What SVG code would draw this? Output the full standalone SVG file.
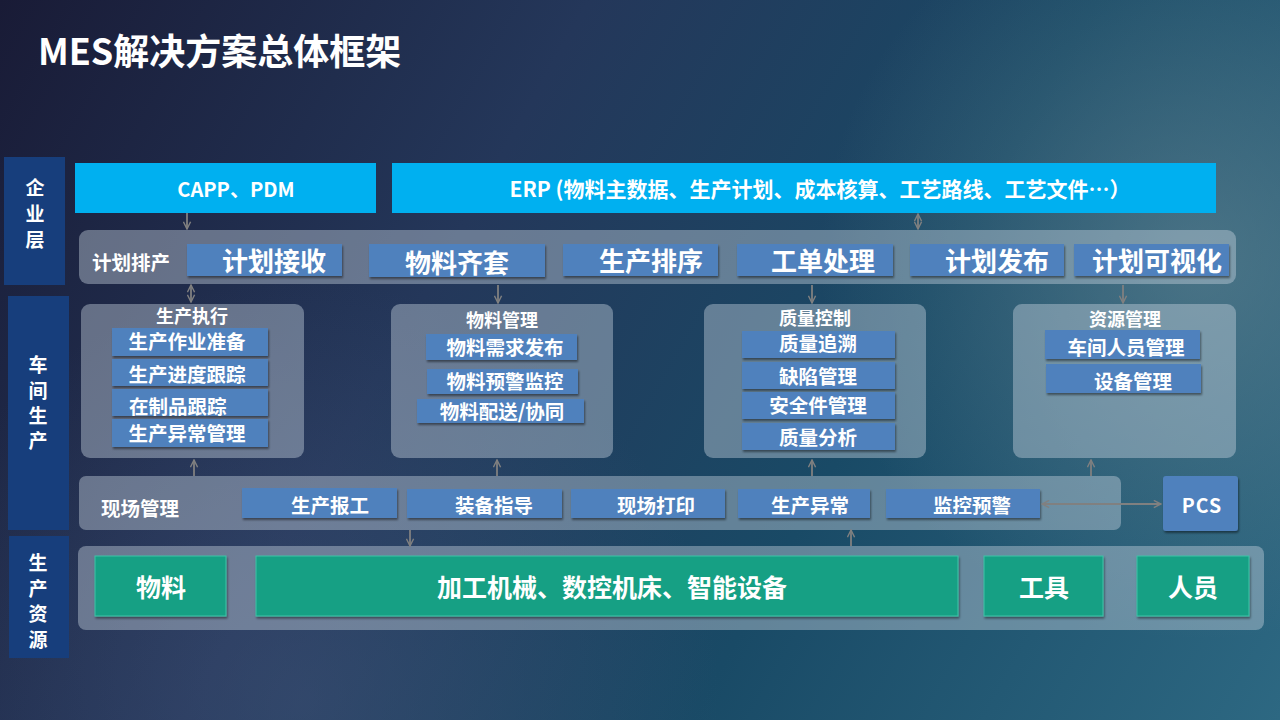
<svg xmlns="http://www.w3.org/2000/svg" width="1280" height="720" viewBox="0 0 1280 720">
<defs>
<linearGradient id="bg" x1="0" y1="0" x2="1280" y2="720" gradientUnits="userSpaceOnUse">
<stop offset="0" stop-color="#191b36"/>
<stop offset="0.35" stop-color="#24375a"/>
<stop offset="0.65" stop-color="#194a66"/>
<stop offset="1" stop-color="#2d6882"/>
</linearGradient>
<radialGradient id="glow" cx="1200" cy="260" r="380" gradientUnits="userSpaceOnUse">
<stop offset="0" stop-color="#6a8a96" stop-opacity="0.55"/>
<stop offset="1" stop-color="#6a8a96" stop-opacity="0"/>
</radialGradient>
<radialGradient id="glow2" cx="300" cy="700" r="420" gradientUnits="userSpaceOnUse">
<stop offset="0" stop-color="#4a5a80" stop-opacity="0.4"/>
<stop offset="1" stop-color="#4a5a80" stop-opacity="0"/>
</radialGradient>
<filter id="sh" x="-10%" y="-20%" width="120%" height="150%">
<feDropShadow dx="1" dy="2" stdDeviation="1.2" flood-color="#000" flood-opacity="0.45"/>
</filter>
<marker id="ah" viewBox="0 0 10 10" refX="9" refY="5" markerWidth="9" markerHeight="9" markerUnits="userSpaceOnUse" orient="auto-start-reverse">
<path d="M1,1 L9,5 L1,9" fill="none" stroke="#808080" stroke-width="1.6"/>
</marker>
<style>
text{font-family:"Noto Sans CJK SC","Liberation Sans",sans-serif;font-weight:bold;fill:#fff;}
.side{fill:#173e7c;}
.cyan{fill:#00b0f0;}
.panel{fill:#c8d4e0;fill-opacity:0.42;}
.blue{fill:#4f81bd;filter:url(#sh);}
.green{fill:#17a084;stroke:#3cc4a8;stroke-width:1;filter:url(#sh);}
.conn line{stroke:#808080;stroke-width:1.8;marker-end:url(#ah);}
.conn line.bi{marker-start:url(#ah);}
.c{text-anchor:middle;}
.big{font-size:26px;}
.mid{font-size:19.5px;}
.sm{font-size:18px;}
.lbl{font-size:19.5px;}
.gt{font-size:25px;}
</style>
</defs>
<rect width="1280" height="720" fill="url(#bg)"/>
<rect width="1280" height="720" fill="url(#glow)"/>
<rect width="1280" height="720" fill="url(#glow2)"/>

<text x="38" y="65" style="font-size:36px">MES解决方案总体框架</text>

<g id="side-enterprise">
<rect class="side" x="4" y="157" width="61" height="128"/>
<text class="c" x="35" y="195" style="font-size:19px">企</text>
<text class="c" x="35" y="221" style="font-size:19px">业</text>
<text class="c" x="35" y="247" style="font-size:19px">层</text>
</g>
<g id="side-workshop">
<rect class="side" x="8" y="296" width="61" height="234"/>
<text class="c" x="38" y="372" style="font-size:19px">车</text>
<text class="c" x="38" y="398" style="font-size:19px">间</text>
<text class="c" x="38" y="423" style="font-size:19px">生</text>
<text class="c" x="38" y="448" style="font-size:19px">产</text>
</g>
<g id="side-resource">
<rect class="side" x="9" y="536" width="60" height="122"/>
<text class="c" x="38" y="570" style="font-size:19px">生</text>
<text class="c" x="38" y="596" style="font-size:19px">产</text>
<text class="c" x="38" y="621" style="font-size:19px">资</text>
<text class="c" x="38" y="647" style="font-size:19px">源</text>
</g>

<g id="capp">
<rect class="cyan" x="75" y="163" width="301" height="50"/>
<text class="c" x="236" y="197" style="font-size:20px">CAPP、PDM</text>
</g>
<g id="erp">
<rect class="cyan" x="392" y="163" width="824" height="50"/>
<text class="c" x="820" y="197" style="font-size:21px">ERP (物料主数据、生产计划、成本核算、工艺路线、工艺文件…）</text>
</g>

<g id="plan">
<rect class="panel" x="79" y="230" width="1157" height="54" rx="9"/>
<text x="92" y="270" class="lbl">计划排产</text>
<rect class="blue" x="187" y="244" width="155" height="32"/>
<text class="c big" x="274" y="271">计划接收</text>
<rect class="blue" x="369" y="244" width="176" height="33"/>
<text class="c big" x="457" y="273">物料齐套</text>
<rect class="blue" x="563" y="244" width="155" height="32"/>
<text class="c big" x="651" y="271">生产排序</text>
<rect class="blue" x="737" y="244" width="156" height="32"/>
<text class="c big" x="823" y="271">工单处理</text>
<rect class="blue" x="910" y="244" width="154" height="32"/>
<text class="c big" x="997" y="271">计划发布</text>
<rect class="blue" x="1074" y="244" width="155" height="32"/>
<text class="c big" x="1157" y="271">计划可视化</text>
</g>

<g id="exec">
<rect class="panel" x="81" y="304" width="223" height="154" rx="9"/>
<text class="c sm" x="192" y="323">生产执行</text>
<rect class="blue" x="112" y="328" width="156" height="28"/>
<text class="c mid" x="187" y="349">生产作业准备</text>
<rect class="blue" x="112" y="359" width="156" height="27"/>
<text class="c mid" x="187" y="382">生产进度跟踪</text>
<rect class="blue" x="112" y="389" width="156" height="27"/>
<text class="mid" x="129" y="414">在制品跟踪</text>
<rect class="blue" x="112" y="419" width="156" height="28"/>
<text class="c mid" x="187" y="441">生产异常管理</text>
</g>

<g id="material">
<rect class="panel" x="391" y="304" width="222" height="154" rx="9"/>
<text class="c sm" x="502" y="327">物料管理</text>
<rect class="blue" x="426" y="334" width="151" height="26"/>
<text class="c mid" x="505" y="355">物料需求发布</text>
<rect class="blue" x="427" y="369" width="151" height="25"/>
<text class="c mid" x="505" y="389">物料预警监控</text>
<rect class="blue" x="417" y="399" width="167" height="24"/>
<text class="c mid" x="502" y="419">物料配送/协同</text>
</g>

<g id="quality">
<rect class="panel" x="704" y="304" width="222" height="154" rx="9"/>
<text class="c sm" x="815" y="325">质量控制</text>
<rect class="blue" x="742" y="331" width="153" height="27"/>
<text class="c mid" x="818" y="351">质量追溯</text>
<rect class="blue" x="742" y="362" width="153" height="27"/>
<text class="c mid" x="818" y="384">缺陷管理</text>
<rect class="blue" x="742" y="392" width="153" height="27"/>
<text class="c mid" x="818" y="413">安全件管理</text>
<rect class="blue" x="742" y="423" width="153" height="27"/>
<text class="c mid" x="818" y="445">质量分析</text>
</g>

<g id="resource">
<rect class="panel" x="1013" y="304" width="223" height="154" rx="9"/>
<text class="c sm" x="1125" y="326">资源管理</text>
<rect class="blue" x="1045" y="330" width="155" height="29"/>
<text class="c mid" x="1126" y="355">车间人员管理</text>
<rect class="blue" x="1046" y="364" width="155" height="29"/>
<text class="c mid" x="1133" y="389">设备管理</text>
</g>

<g id="site">
<rect class="panel" x="79" y="476" width="1042" height="54" rx="7"/>
<text x="101" y="516" class="lbl">现场管理</text>
<rect class="blue" x="242" y="488" width="155" height="30"/>
<text class="c mid" x="330" y="513">生产报工</text>
<rect class="blue" x="407" y="489" width="155" height="29"/>
<text class="c mid" x="494" y="513">装备指导</text>
<rect class="blue" x="571" y="489" width="154" height="29"/>
<text class="c mid" x="656" y="513">现场打印</text>
<rect class="blue" x="738" y="489" width="132" height="29"/>
<text class="c mid" x="810" y="513">生产异常</text>
<rect class="blue" x="886" y="489" width="154" height="29"/>
<text class="c mid" x="972" y="513">监控预警</text>
</g>

<g id="pcs">
<rect class="blue" x="1163" y="476" width="75" height="55" rx="3"/>
<text class="c mid" x="1202" y="513" style="letter-spacing:1px">PCS</text>
</g>

<g id="resources">
<rect class="panel" x="78" y="546" width="1186" height="84" rx="8"/>
<rect class="green" x="95" y="556" width="131" height="60"/>
<text class="c gt" x="161" y="597">物料</text>
<rect class="green" x="256" y="556" width="702" height="60"/>
<text class="c gt" x="612" y="597">加工机械、数控机床、智能设备</text>
<rect class="green" x="984" y="556" width="119" height="60"/>
<text class="c gt" x="1044" y="597">工具</text>
<rect class="green" x="1137" y="556" width="112" height="60"/>
<text class="c gt" x="1193" y="597">人员</text>
</g>

<g id="connectors" class="conn">
<line x1="187" y1="213" x2="187" y2="229"/>
<line class="bi" x1="918" y1="214" x2="918" y2="229"/>
<line class="bi" x1="191" y1="285" x2="191" y2="302"/>
<line x1="498" y1="285" x2="498" y2="303"/>
<line x1="812" y1="285" x2="812" y2="303"/>
<line x1="1123" y1="285" x2="1123" y2="303"/>
<line x1="194" y1="476" x2="194" y2="460"/>
<line x1="497" y1="476" x2="497" y2="460"/>
<line x1="812" y1="476" x2="812" y2="460"/>
<line x1="1091" y1="476" x2="1091" y2="460"/>
<line class="bi" x1="1042" y1="504" x2="1161" y2="504"/>
<line x1="410" y1="530" x2="410" y2="546"/>
<line x1="851" y1="546" x2="851" y2="530"/>
</g>
</svg>
